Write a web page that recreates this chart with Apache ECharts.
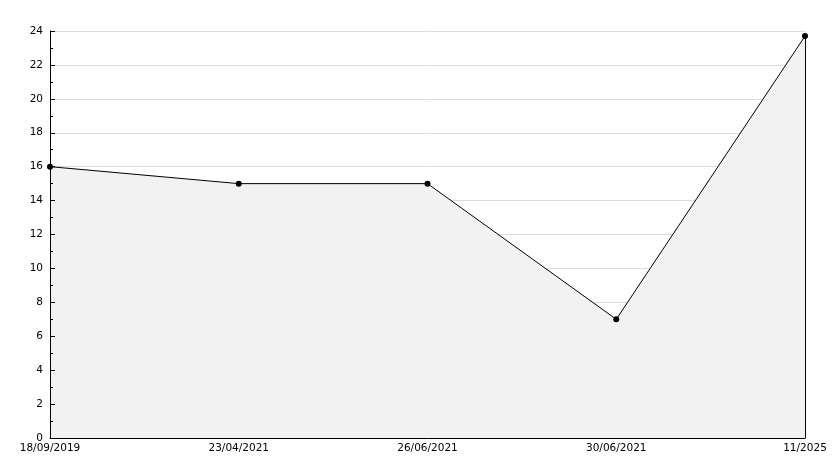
<!DOCTYPE html>
<html><head><meta charset="utf-8">
<script src="https://cdn.jsdelivr.net/npm/echarts@6/dist/echarts.min.js"></script>
<style>html,body{margin:0;padding:0;background:#fff}#c{width:834px;height:468px}</style>
</head><body><div id="c"></div>
<script>
const categories = ['18/09/2019', '23/04/2021', '26/06/2021', '30/06/2021', '11/2025'];
const values = [16, 15, 15, 7, 23.7];
const yMin = 0, yMax = 24, yStep = 2;

const chart = echarts.init(document.getElementById('c'));
const font = 'DejaVu Sans';
chart.setOption({
  animation: false,
  grid: { left: 50, right: 29, top: 31, bottom: 30 },
  xAxis: {
    type: 'category', data: categories, boundaryGap: false, zlevel: 1, z: 5,
    axisLine: { lineStyle: { color: '#000', width: 1 } },
    axisTick: { show: false },
    axisLabel: { color: '#000', fontFamily: font, fontSize: 10.5, margin: 5, showMinLabel: true, showMaxLabel: true, interval: 0 },
    splitLine: { show: false }
  },
  yAxis: [{
    type: 'value', min: yMin, max: yMax, interval: yStep, zlevel: 0, z: 0,
    axisLine: { show: false }, axisTick: { show: false }, axisLabel: { show: false },
    splitLine: { show: true, lineStyle: { color: '#dcdcdc', width: 1 } }
  }, {
    type: 'value', min: yMin, max: yMax, interval: yStep, zlevel: 1, z: 5, position: 'left',
    axisLine: { show: true, lineStyle: { color: '#000', width: 1 } },
    axisTick: { show: true, inside: true, length: 5, lineStyle: { color: '#000' } },
    minorTick: { show: true, splitNumber: 2, length: 3, lineStyle: { color: '#000' } },
    axisLabel: { color: '#000', fontFamily: font, fontSize: 10.5, margin: 7 },
    splitLine: { show: false }
  }],
  series: [{
    type: 'line', data: values, zlevel: 1, z: 2, yAxisIndex: 0,
    symbol: 'circle', symbolSize: 6,
    itemStyle: { color: '#000' },
    lineStyle: { color: '#000', width: 1 },
    areaStyle: { color: '#f2f2f2', opacity: 1 },
    markLine: {
      silent: true, symbol: 'none', label: { show: false },
      lineStyle: { color: '#000', width: 1, type: 'solid' },
      data: [[{ coord: [categories.length - 1, values[values.length - 1]] }, { coord: [categories.length - 1, yMin] }]]
    }
  }]
});
</script></body></html>
